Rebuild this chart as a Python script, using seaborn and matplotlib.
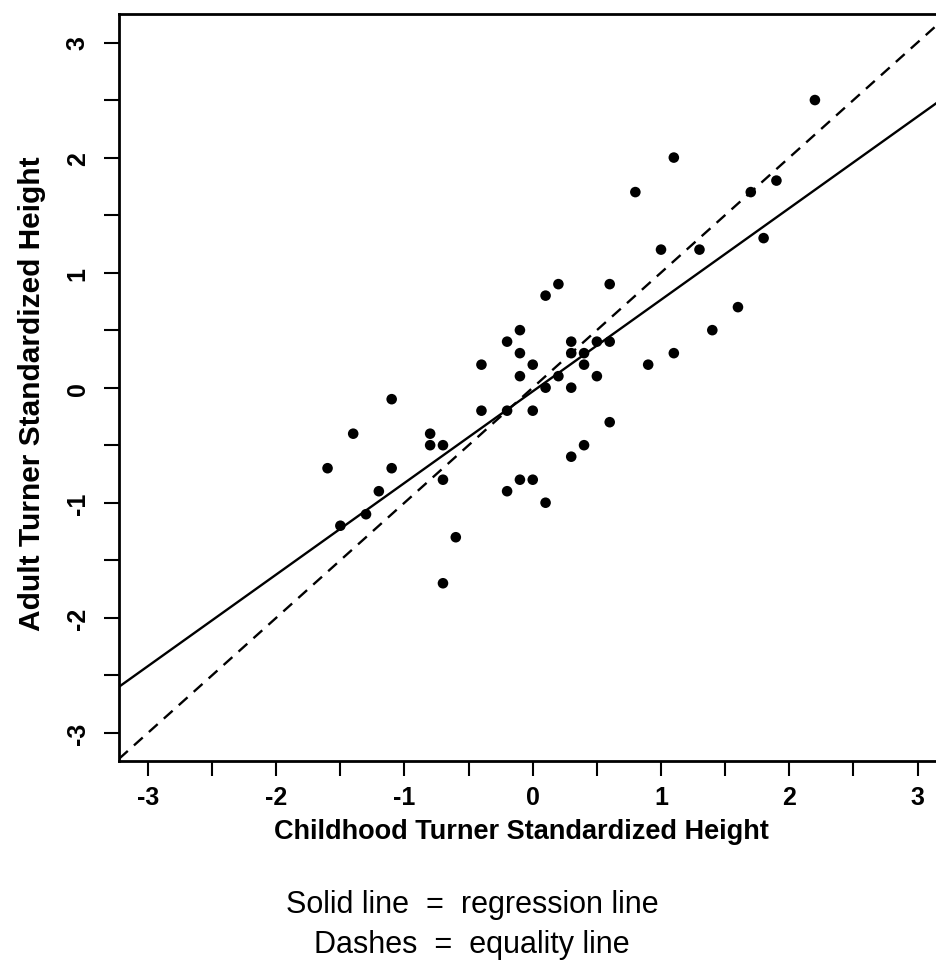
import numpy as np
import pandas as pd
import matplotlib
matplotlib.use("Agg")
import matplotlib.pyplot as plt
import seaborn as sns
from matplotlib.ticker import MultipleLocator, FixedLocator

# Data (standardized heights)
child_height = [-1.6, -1.5, -1.4, -1.3, -1.2, -1.1, -1.1, -0.8, -0.8, -0.7,
                -0.7, -0.7, -0.6, -0.4, -0.4, -0.2, -0.2, -0.2, -0.1, -0.1,
                -0.1, -0.1, 0.0, 0.0, 0.0, 0.1, 0.1, 0.1, 0.2, 0.2,
                0.3, 0.3, 0.3, 0.3, 0.4, 0.4, 0.4, 0.5, 0.5, 0.6,
                0.6, 0.6, 0.8, 0.9, 1.0, 1.1, 1.1, 1.3, 1.4, 1.6,
                1.7, 1.8, 1.9, 2.2]
adult_height = [-0.7, -1.2, -0.4, -1.1, -0.9, -0.1, -0.7, -0.4, -0.5, -0.5,
                -0.8, -1.7, -1.3, 0.2, -0.2, 0.4, -0.2, -0.9, 0.5, 0.3,
                0.1, -0.8, 0.2, -0.2, -0.8, 0.8, 0.0, -1.0, 0.9, 0.1,
                0.4, 0.3, 0.0, -0.6, 0.3, 0.2, -0.5, 0.4, 0.1, 0.9,
                0.4, -0.3, 1.7, 0.2, 1.2, 2.0, 0.3, 1.2, 0.5, 0.7,
                1.7, 1.3, 1.8, 2.5]
# regression line coefficients as drawn in the reference
reg_slope = 0.796
reg_intercept = -0.032
# equality line
eq_slope = 1.0
eq_intercept = 0.0
tick_values = [-3, -2, -1, 0, 1, 2, 3]
x_title = "Childhood Turner Standardized Height"
y_title = "Adult Turner Standardized Height"
caption = ["Solid line  =  regression line", "Dashes  =  equality line"]

df = pd.DataFrame({"child": child_height, "adult": adult_height})

sns.set_theme(style="white")
plt.rcParams["font.family"] = ["Liberation Sans", "DejaVu Sans"]

W, H = 936, 979
fig = plt.figure(figsize=(W / 100, H / 100), dpi=100)
left_px, right_px, top_px, bottom_px = 119, 946.5, 15, 762
ax = fig.add_axes([left_px / W, 1 - bottom_px / H,
                   (right_px - left_px) / W, (bottom_px - top_px) / H])
ax.set_facecolor("white")

xlim = (-3.226, 3.226)
ylim = (-3.245, 3.248)

line_x = np.array(xlim)
lines = pd.DataFrame({
    "x": np.concatenate([line_x, line_x]),
    "y": np.concatenate([reg_intercept + reg_slope * line_x,
                         eq_intercept + eq_slope * line_x]),
    "kind": ["regression"] * 2 + ["equality"] * 2,
})
sns.lineplot(data=lines, x="x", y="y", style="kind",
             style_order=["regression", "equality"],
             dashes={"regression": "", "equality": (5.0, 3.5)},
             color="black", lw=1.7, ax=ax, legend=False, zorder=2,
             estimator=None, sort=False)
# points
sns.scatterplot(data=df, x="child", y="adult", ax=ax, color="black", s=58,
                edgecolor="none", linewidth=0, zorder=3)

ax.set_xlim(*xlim)
ax.set_ylim(*ylim)

ax.xaxis.set_major_locator(FixedLocator(tick_values))
ax.yaxis.set_major_locator(FixedLocator(tick_values))
ax.set_xticklabels([str(v) for v in tick_values])
ax.set_yticklabels([str(v) for v in tick_values])
ax.xaxis.set_minor_locator(MultipleLocator(0.5))
ax.yaxis.set_minor_locator(MultipleLocator(0.5))
ax.tick_params(which="both", direction="out", length=11, width=1.5,
               color="black", bottom=True, left=True)
ax.tick_params(which="major", labelsize=18, pad=6, labelcolor="black")
ax.tick_params(axis="y", which="major", labelrotation=90, pad=10)
for lab in ax.get_xticklabels() + ax.get_yticklabels():
    lab.set_fontweight("bold")
for lab in ax.get_yticklabels():
    lab.set_va("center")

for side in ["top", "left", "bottom", "right"]:
    ax.spines[side].set_color("black")
    ax.spines[side].set_linewidth(2.0)

ax.set_xlabel("")
ax.set_ylabel("")

fig.text(521 / W, 1 - 832 / H, x_title, ha="center", va="center",
         fontsize=19.5, fontweight="bold", color="black")
fig.text(32 / W, 1 - 394 / H, y_title, ha="center", va="center",
         rotation=90, fontsize=21.5, fontweight="bold", color="black")
fig.text(472 / W, 1 - 905 / H, caption[0], ha="center", va="center",
         fontsize=22, color="black")
fig.text(472 / W, 1 - 945 / H, caption[1], ha="center", va="center",
         fontsize=22, color="black")

fig.savefig("out.png", dpi=100, facecolor="white")
